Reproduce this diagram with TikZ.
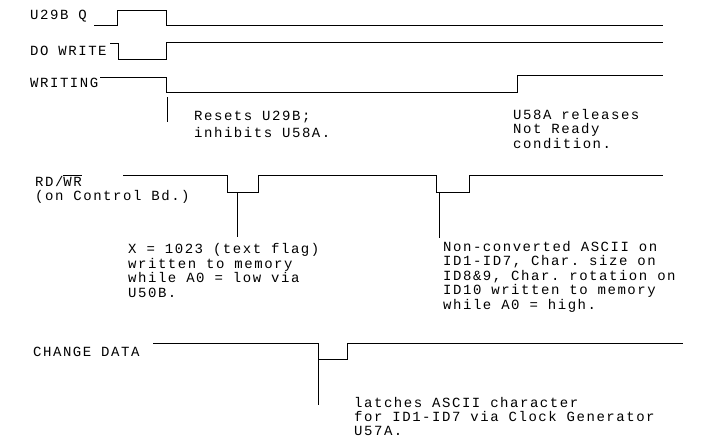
\documentclass[tikz,border=0pt]{standalone}
\usepackage{fontspec}
\setmonofont[LetterSpace=11]{Liberation Mono}
\begin{document}
\begin{tikzpicture}[x=1pt,y=-1pt,
  sig/.style={line width=1pt, line join=miter},
  tick/.style={line width=0.9pt},
  lbl/.style={font=\ttfamily\fontsize{14}{14.5}\selectfont, inner sep=0pt, anchor=base west, align=left}]
\useasboundingbox (0,0) rectangle (716,440);

% signal names (base anchor = baseline of the last line)
\node[lbl] (lq)  at (30,19.5) {U29B Q};
\node[lbl] (ldw) at (30,55) {DO WRITE};
\node[lbl] (lw)  at (30,87) {WRITING};
\node[lbl] (lrd) at (35,200.5) {RD/$\overline{\hbox{WR}}$\\(on Control Bd.)};
\node[lbl] (lcd) at (33,356) {CHANGE DATA};

% waveforms
\draw[sig] (94,25.5) -- (117,25.5) -- (117,10) -- (166.5,10) -- (166.5,25) -- (663,25);
\draw[sig] (110,43) -- (118,43) -- (118,59) -- (166.5,59) -- (166.5,42) -- (663,42);
\draw[sig] (100,77) -- (166.5,77) -- (166.5,92) -- (517,92) -- (517,75) -- (663,75);
\draw[sig] (123,175) -- (227,175) -- (227,192) -- (258,192) -- (258,175) -- (436.5,175)
  -- (436.5,192) -- (469,192) -- (469,175) -- (663,175);
\draw[sig] (153,343) -- (318,343) -- (318,359) -- (347.5,359) -- (347.5,343) -- (683,343);

% annotation ticks
\coordinate (t1) at (167,97);  \coordinate (b1) at (167,122);
\coordinate (t2) at (237,193); \coordinate (b2) at (237,237);
\coordinate (t3) at (439,193); \coordinate (b3) at (439,238);
\coordinate (t4) at (318,360); \coordinate (b4) at (318,405);
\draw[tick] (t1) -- (b1);
\draw[tick] (t2) -- (b2);
\draw[tick] (t3) -- (b3);
\draw[tick] (t4) -- (b4);

% notes
\node[lbl, font=\ttfamily\fontsize{14}{17}\selectfont] (n1) at (194,137) {Resets U29B;\\inhibits U58A.};
\node[lbl] (n2) at (513,148) {U58A releases\\Not Ready\\condition.};
\node[lbl] (n3) at (128,297) {X = 1023 (text flag)\\written to memory\\while A0 = low via\\U50B.};
\node[lbl] (n4) at (443,309) {Non-converted ASCII on\\ID1-ID7, Char. size on\\ID8\&9, Char. rotation on\\ID10 written to memory\\while A0 = high.};
\node[lbl, font=\ttfamily\fontsize{14}{14.2}\selectfont] (n5) at (354,435.5) {latches ASCII character\\for ID1-ID7 via Clock Generator\\U57A.};
\end{tikzpicture}
\end{document}
